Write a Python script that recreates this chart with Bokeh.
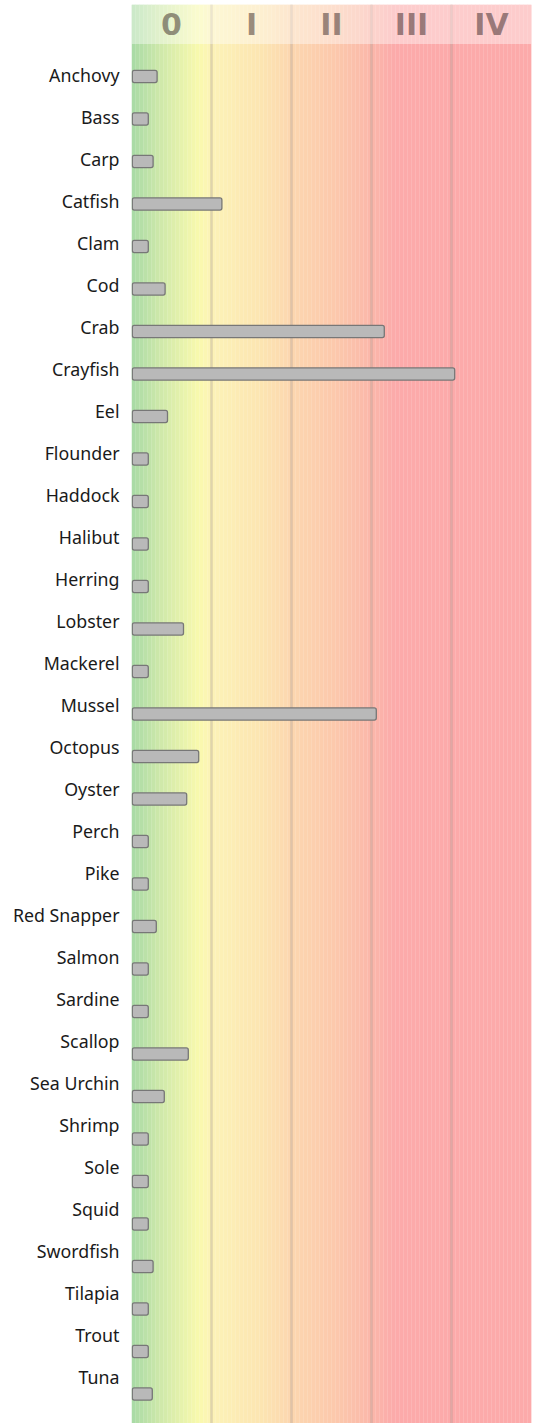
import numpy as np
from bokeh.plotting import figure
from bokeh.models import Range1d, FixedTicker, ColumnDataSource
from bokeh.embed import file_html
from bokeh.resources import INLINE
from bokeh.core.properties import value

# ---- data ----
species = ["Anchovy", "Bass", "Carp", "Catfish", "Clam", "Cod", "Crab", "Crayfish",
           "Eel", "Flounder", "Haddock", "Halibut", "Herring", "Lobster", "Mackerel",
           "Mussel", "Octopus", "Oyster", "Perch", "Pike", "Red Snapper", "Salmon",
           "Sardine", "Scallop", "Sea Urchin", "Shrimp", "Sole", "Squid", "Swordfish",
           "Tilapia", "Trout", "Tuna"]
levels = [0.32, 0.21, 0.27, 1.13, 0.21, 0.42, 3.16, 4.04,
          0.45, 0.21, 0.21, 0.21, 0.21, 0.65, 0.21,
          3.06, 0.84, 0.69, 0.21, 0.21, 0.31, 0.21,
          0.21, 0.71, 0.41, 0.21, 0.21, 0.21, 0.27,
          0.21, 0.21, 0.26]
classes = ["0", "I", "II", "III", "IV"]
class_lower = [0, 1, 2, 3, 4]
class_upper = [1, 2, 3, 4, 5]

# ---- style ----
grad_stops = [0.0, 0.35, 0.85, 1.0, 1.6, 2.0, 2.6, 3.0, 3.3, 5.0]
grad_rgb = [(168, 218, 166), (206, 233, 170), (250, 250, 174), (252, 243, 184),
            (252, 230, 178), (252, 215, 176), (252, 199, 172), (251, 184, 170),
            (252, 170, 170), (252, 170, 170)]

Y_TOP, Y_BOT, HEAD_BOT, HEAD_MID = -1.667, 32.119, -0.726, -1.198

n = len(species)
row = np.arange(n)
bar_y = (row * 42.5 + 2) / 42.0

p = figure(width=539, height=1423, x_range=Range1d(0, 5),
           y_range=Range1d(Y_BOT, Y_TOP), output_backend="svg",
           toolbar_location=None, x_axis_location=None,
           min_border_left=131, min_border_right=8, min_border_top=4, min_border_bottom=0)
p.outline_line_color = None
p.grid.visible = False
p.background_fill_color = "white"

# gradient background
step = 0.05
xs = np.arange(0, 5, step)
mid = xs + step / 2
r = np.interp(mid, grad_stops, [c[0] for c in grad_rgb])
g = np.interp(mid, grad_stops, [c[1] for c in grad_rgb])
b = np.interp(mid, grad_stops, [c[2] for c in grad_rgb])
cols = ["#%02x%02x%02x" % (int(a), int(bb), int(c)) for a, bb, c in zip(r, g, b)]
p.quad(left=xs, right=xs + step + 0.003, top=Y_TOP, bottom=Y_BOT,
       fill_color=cols, line_color=None)

# class boundaries
p.segment(x0=class_upper[:-1], x1=class_upper[:-1], y0=Y_TOP, y1=Y_BOT,
          line_color="#9a8a80", line_alpha=0.3, line_width=2.5)

# header band
p.quad(left=0, right=5, top=Y_TOP, bottom=HEAD_BOT, fill_color="white",
       fill_alpha=0.4, line_color=None)
hx = [(a + c) / 2 for a, c in zip(class_lower, class_upper)]
p.text(x=hx, y=[HEAD_MID] * len(classes), text=classes, text_align="center",
       text_baseline="middle", text_font=value("DejaVu Sans"),
       text_font_style="bold", text_font_size="30px", text_color="#2a1a1a",
       text_alpha=0.48)

# bars
src = ColumnDataSource(dict(y=bar_y, right=levels))
p.hbar(y="y", left=0.01, right="right", height=0.29, source=src,
       fill_color="#b9b9b9", line_color="#777777", line_width=1.3, border_radius=2)

# y axis labels
p.yaxis.ticker = FixedTicker(ticks=list(range(n)))
p.yaxis.major_label_overrides = {i: s for i, s in enumerate(species)}
p.yaxis.axis_line_color = None
p.yaxis.major_tick_line_color = None
p.yaxis.minor_tick_line_color = None
p.yaxis.major_tick_out = 0
p.yaxis.major_label_standoff = 12
p.yaxis.major_label_text_font = "Noto Sans"
p.yaxis.major_label_text_font_size = "17.8px"
p.yaxis.major_label_text_color = "#1a1a1a"

open("out.html", "w").write(file_html(p, INLINE))
